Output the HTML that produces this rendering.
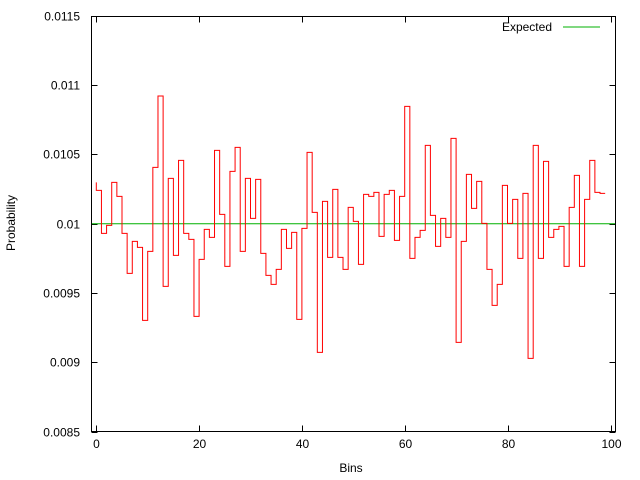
<!DOCTYPE html>
<html><head><meta charset="utf-8"><style>
html,body{margin:0;padding:0;background:#fff;}
svg{display:block;font-family:"Liberation Sans",sans-serif;font-size:12px;}
</style></head><body>
<svg id="s" width="640" height="480" viewBox="0 0 640 480" xmlns="http://www.w3.org/2000/svg">
<rect width="640" height="480" fill="#fff"/>
<g id="ticks" stroke="#000" stroke-width="1"></g>
<g id="labels" fill="#000"></g>
<line x1="91.5" y1="223.7" x2="615.5" y2="223.7" stroke="#00b000" stroke-width="1"/>
<path id="p" fill="none" stroke="#ff0000" stroke-width="1"/>
<rect x="91.5" y="16.5" width="524" height="415" fill="none" stroke="#000" stroke-width="1"/>
<text x="552" y="31" text-anchor="end">Expected</text>
<line x1="563" y1="27" x2="600" y2="27" stroke="#00b000"/>
<text x="351" y="472" text-anchor="middle">Bins</text>
<text transform="translate(15,223) rotate(-90)" text-anchor="middle">Probability</text>
</svg>
<script>
var z=[331,460,436,307,349,460,580,484,502,721,514,262,48,619,295,526,241,460,478,709,538,448,472,211,
403,559,274,202,514,295,415,298,520,586,613,568,448,505,457,718,445,217,397,817,364,532,328,532,568,382,424,553,
343,349,337,469,343,331,481,349,79,535,472,451,196,406,499,415,472,175,787,484,283,385,304,430,568,
676,613,316,430,358,535,340,835,196,535,244,472,448,439,559,382,286,559,358,241,337,340];
function X(i){return 96.3+5.14*i;}
function Y(v){return 80+v/3;}
var d="M"+X(0)+" "+Y(307)+" L"+X(0)+" "+Y(z[0]);
for(var i=0;i<z.length;i++){d+=" L"+X(i+1).toFixed(2)+" "+Y(z[i]).toFixed(2);if(i+1<z.length)d+=" L"+X(i+1).toFixed(2)+" "+Y(z[i+1]).toFixed(2);}
document.getElementById("p").setAttribute("d",d);
var t="",l="";
var yl=["0.0085","0.009","0.0095","0.01","0.0105","0.011","0.0115"];
for(var k=0;k<7;k++){var y=431.5-k*69.3;y=Math.round(y)+0.5;
t+='<line x1="91.5" y1="'+y+'" x2="97.5" y2="'+y+'"/><line x1="615.5" y1="'+y+'" x2="609.5" y2="'+y+'"/>';
l+='<text x="80" y="'+(y+4)+'" text-anchor="end">'+yl[k]+'</text>';}
for(var k=0;k<=5;k++){var x=Math.round(96.3+k*20*5.15)+0.5;
t+='<line x1="'+x+'" y1="431.5" x2="'+x+'" y2="425.5"/><line x1="'+x+'" y1="16.5" x2="'+x+'" y2="22.5"/>';
l+='<text x="'+x+'" y="448" text-anchor="middle">'+(k*20)+'</text>';}
document.getElementById("ticks").innerHTML=t;
document.getElementById("labels").innerHTML=l;
</script>
</body></html>
